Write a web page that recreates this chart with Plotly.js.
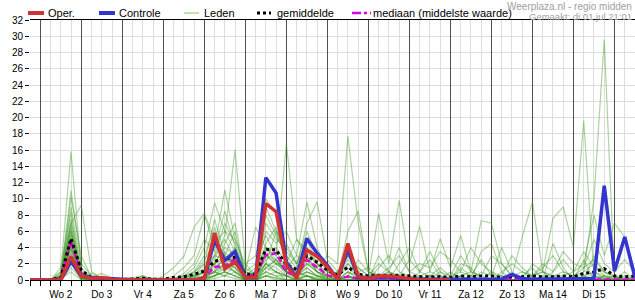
<!DOCTYPE html>
<html><head><meta charset="utf-8">
<script src="https://cdn.plot.ly/plotly-3.0.1.min.js"></script>
<style>html,body{margin:0;padding:0;background:#fff}#chart{width:635px;height:300px}</style>
</head><body><div id="chart"></div>
<script>
// time steps of 6 hours; 0 = Wo 2 jul 00:00
const steps = [-1,0,1,2,3,4,5,6,7,8,9,10,11,12,13,14,15,16,17,18,19,20,21,22,23,24,25,26,27,28,29,30,31,32,33,34,35,36,37,38,39,40,41,42,43,44,45,46,47,48,49,50,51,52,53,54,55,56,57,58];
const midnights = [0,4,8,12,16,20,24,28,32,36,40,44,48,52,56];
const dayCenters = [2,6,10,14,18,22,26,30,34,38,42,46,50,54];
const dayLabels = ['Wo 2','Do 3','Vr 4','Za 5','Zo 6','Ma 7','Di 8','Wo 9','Do 10','Vr 11','Za 12','Zo 13','Ma 14','Di 15'];

const oper = [0, 0,0,0,2.9, 0.5,0.2,0.3,0.05, 0,0,0,0, 0,0,0,0, 0.2,5.8,1.4,2.25, 0.3,0.3,9.4,8.4, 1.8,0.2,3.7,2.9, 1.6,0.1,4.5,0.4, 0.2,0.5,0.5,0.3, 0.1,0,0,0, 0];
const controle = [0, 0,0,0,2.3, 0.5,0.3,0.2,0.1, 0.1,0.05,0,0, 0,0,0,0, 0.2,4.9,2.4,3.5, 0.3,0.3,12.6,10.7, 2.2,0.3,5.1,3.3, 1.8,0.1,3.8,0.3, 0.3,0.4,0.4,0.2, 0.1,0.1,0.1,0.1, 0.1,0.1,0.1,0.1, 0.1,0.1,0.7,0.2, 0.1,0.1,0.1,0.1, 0.1,0.1,0.2,11.6, 1.1,5.3,0.3];
const gemiddelde = [0, 0,0,0.3,5.1, 1.2,0.3,0.3,0.1, 0.05,0.1,0.2,0.1, 0.1,0.3,0.4,0.7, 1.1,2.3,2.6,2.8, 0.7,0.7,3.8,3.7, 1.9,1.3,3.0,2.2, 1.2,0.6,1.6,0.7, 0.5,0.6,0.6,0.6, 0.5,0.4,0.4,0.4, 0.3,0.5,0.4,0.5, 0.5,0.3,0.4,0.4, 0.5,0.4,0.4,0.5, 0.4,0.8,1.0,1.4, 0.5,0.4,0.5];
const mediaan = [0, 0,0,0.2,4.8, 0.8,0.1,0.1,0, 0,0,0,0, 0,0,0,0, 0.3,1.6,1.7,2.6, 0.6,0.6,3.1,3.3, 1.0,0.5,2.5,1.6, 0.6,0.2,0.4,0.2, 0.05,0.05,0.05,0.05, 0.05,0.05,0.05,0.05, 0.05,0.05,0.05,0.05, 0.05,0.05,0.05,0.05, 0.05,0.05,0.05,0.05, 0.05,0.05,0.1,0.1, 0.05,0.05,0.05];

const m1 = [0, 0,0,1.0,15.8, 1.2,0.2,0,0, 0,0,0,0, 0,0.2,0.5,1.0, 3.0,6.5,2.0,1.5, 0.5,1.0,4.0,2.5, 1.0,0.5,3.0,1.0, 0.2,0,0.5,0, 0,0.5,0,0, 0,0,0.5,0, 0,0,0,0, 0,0.5,0,0, 0,0,0,0, 0,0.5,1.0,0.2, 0,0.5,0];
const m2 = [0, 0,0,0.5,11.0, 2.0,0.5,0.3,0, 0,0,0.3,0, 0,0,0.8,2.0, 5.0,3.5,8.5,4.0, 1.0,0.5,7.0,5.0, 4.0,2.0,6.0,3.0, 1.0,0.5,2.0,0.5, 0,1.5,3.0,1.0, 0.5,0,0,1.0, 0,0.5,0,0, 1.0,0,0,0, 0,0,0,0.5, 0,1.0,2.0,0.5, 0.3,0,0];
const m3 = [0, 0,0,0.5,7.0, 9.2,1.0,0.2,0, 0,0,0,0, 0,0,0.3,0.5, 1.0,2.0,4.0,3.0, 0.2,0.5,2.0,6.0, 2.5,1.0,0.5,0.2, 0,0,1.0,0.5, 0,0,0,0, 0,0,0,0, 0,0,0,1.0, 0.5,0,0,0, 0,0,0,0, 0,0,0.5,0.2, 0,0,0];
const m4 = [0, 0,0,0.3,10.2, 3.0,0.3,0.2,0, 0,0,0,0, 0,0,0,0.5, 2.0,7.5,3.0,6.0, 0.5,1.5,10.0,8.0, 3.5,2.0,5.0,2.0, 0.5,0,0.5,0, 0,0,0.5,0, 0,0,0,0, 0,0,0,0, 0,0,0,0, 0,0,0.5,0, 0,0,0,0.5, 0,0,0.3];
const m5 = [0, 0,0,0,9.0, 1.5,0.3,0,0, 0,0,0.5,0, 0,0.5,1.5,3.0, 8.0,4.0,11.1,5.0, 1.5,0.5,6.0,4.5, 6.0,3.0,9.6,4.0, 1.0,0.5,3.0,1.0, 0,0,0,0.5, 0,0,0,0, 0.5,0,0,0, 0,0,0,0, 0,0,0,0, 0,0,0,0, 0,0,0];
const m6 = [0, 0,0,1.5,8.3, 0.5,0.8,0.2,0, 0,0,0,0, 0,0,0,0.3, 1.0,2.5,5.5,16.0, 2.0,0.5,3.0,2.0, 1.5,3.0,2.0,1.0, 0.5,0,0,0, 0,0,0,0, 0,0,0,0, 0,0,0,0, 0,0,0,0, 0,0,0,0, 0,0,0,0, 0,0,0];
const m7 = [0, 0,0,0.2,7.5, 1.0,0.2,0,0, 0,0.3,0.5,0, 0,0,0.2,0.8, 2.5,4.5,6.0,3.5, 1.0,2.0,5.5,3.0, 16.8,5.0,3.5,2.0, 1.0,0.5,1.5,0.5, 0.2,0,0,0, 0,0,0,0, 0,0,0,0, 0,0,0,0, 0,0,0,0, 0,0,0,0, 0,0,0];
const m8 = [0, 0,0,0.8,7.0, 0.5,0.3,0.8,0.2, 0,0,0,0, 0,0,0,0, 0.5,1.0,2.0,1.0, 0.3,0,1.5,2.5, 1.0,0.5,2.0,1.5, 3.0,2.0,17.7,7.0, 1.0,0.5,0.5,0, 0,0,0,0, 0,0,0,0, 0,0,0,0, 0,0,0,0, 0,0,0,0, 0,0,0];
const m9 = [0, 0,0,0.5,6.6, 0.8,0.2,0,0, 0,0,0,0, 0.5,1.5,2.9,6.5, 8.2,5.0,3.0,2.0, 0.5,0.5,4.5,6.5, 2.0,1.0,4.0,2.0, 0.5,0,1.0,0, 0,0,0,0, 0,0,0,0, 0,0,0,0, 0,0,0,0, 0,0,0,0, 0,0,0,0, 0,0,0];
const m10 = [0, 0,0,0.3,6.0, 1.0,0,0,0, 0,0,0,0, 0,0,0.5,1.5, 4.0,9.5,6.0,5.0, 2.0,3.0,8.0,5.5, 3.0,1.5,7.0,9.6, 2.5,1.0,2.0,1.0, 0,0,0.5,0, 0,0,0,0, 0,0,0,0, 0,0,0,0, 0,0,0,0, 0,0,0,0, 0,0,0];
const m11 = [0, 0,0,0,5.8, 0.5,0,0,0, 0,0,0,0, 0,0,0,0, 0.3,1.0,3.0,2.0, 0.5,0,2.0,1.0, 0.5,0.5,1.5,0.5, 0.3,1.0,3.0,1.5, 0.5,8.2,2.0,9.8, 2.0,6.6,1.0,0.5, 0,0,0,0, 0,0,0,0, 0,0,0,0, 0,0,0,0, 0,0,0];
const m12 = [0, 0,0,1.0,5.5, 0.3,0,0,0, 0,0,0,0.3, 0,0,0.3,1.0, 2.0,3.0,7.0,4.5, 1.0,0.5,3.5,4.0, 2.0,0.5,1.0,0.5, 0.2,0,0.5,0, 0,0,0,0, 0,0.5,1.0,5.1, 1.5,5.5,1.0,0.5, 0,0,0,0, 0,0,0,0, 0,0,0,0, 0,0,0];
const m13 = [0, 0,0,0.2,5.2, 0.5,0.2,0,0, 0,0,0,0, 0,0,0,0, 0.5,2.0,1.0,3.0, 0.5,0,4.0,3.0, 1.0,0.5,2.5,1.0, 0,0,0,0.5, 0,0,0,0.5, 0,0.5,0,0, 0,0.5,1.0,7.3, 7.0,2.0,0.5,5.3, 9.6,1.0,0.5,1.0, 0.5,0,0,0, 0,0,0];
const m14 = [0, 0,0,0.5,5.0, 0.3,0.2,0,0, 0,0,0,0, 0,0,0,0, 0.2,0.5,2.0,1.5, 0,0.5,1.5,2.5, 0.5,1.0,0.5,0, 0,0,0.5,0, 0,0,0,0, 0,0,0,0, 0,0,0,0, 0,0,0,0, 0.5,1.0,7.6,9.0, 4.0,19.6,0.5,0.2, 0.5,0,0];
const m15 = [0, 0,0,0.3,4.8, 0.5,0,0,0, 0,0,0,0, 0,0,0,0.2, 1.0,1.5,2.5,2.0, 0.5,0.2,1.0,2.0, 1.0,0.2,0.5,0.3, 0,0,0,0, 0,0,0,0, 0,0,0,0, 0,0,0,0, 0,0,0,0, 0,0,0,0, 0.5,1.0,10.0,29.6, 0,0.3,0];
const m16 = [0, 0,0,0,4.5, 0.2,0,0,0, 0,0,0,0, 0,0,0,0, 0,0.5,1.0,0.5, 0,0,1.0,0.5, 0,0,0,0, 0,0,0,0, 0,0.5,0,0, 0,1.0,2.5,0.5, 0,1.5,0.5,0, 0,0,0,0.5, 1.5,0,0,0, 0,0,1.0,0.5, 0,0,0];
const m17 = [0, 0,0,0.5,4.2, 0.5,0,0,0, 0,0,0,0, 0,0,0,0, 0.5,2.0,4.5,7.0, 0.5,1.0,9.0,6.0, 4.5,2.0,4.0,1.5, 0.5,0.5,6.0,8.5, 1.0,0.5,0,0, 0,0,0,0, 0,0,0,0, 0,0,0,0, 0,0,0,0, 0,0,0,0, 0,0,0];
const m18 = [0, 0,0,0.3,4.0, 0.3,0,0,0, 0,0,0,0, 0,0,0,0.5, 1.5,1.0,2.0,1.0, 0,0.5,3.0,2.0, 1.0,0.5,1.0,0.5, 0.5,1.0,3.0,1.5, 0.5,2.0,1.0,0.5, 0.5,0,0,0, 1.0,0,0.5,2.5, 0.5,4.0,1.0,0, 0,0.5,0,0, 0.5,1.5,2.5,1.0, 0.5,0,0];
const m19 = [0, 0,0,0,3.8, 0.2,0,0,0, 0,0,0,0, 0,0,0,0, 0.5,1.0,0.5,2.0, 0.5,0.2,2.0,1.0, 0.5,0,0.5,0, 0,0,0,0, 0,3.0,1.0,4.0, 1.0,0.5,0,0.5, 0,0,0,0, 0,0,0.5,0, 0.5,1.5,3.0,1.0, 0.5,0,0.5,0, 0,0,0];
const m20 = [0, 0,0,0.2,3.5, 0.5,0,0,0, 0,0,0,0, 0,0,0.5,0.5, 1.0,5.5,2.0,3.0, 1.0,6.5,4.0,2.0, 2.0,5.0,3.0,1.0, 0.5,0,0.5,0, 0,0,0,0, 0,0,0,0, 0,0,0,0, 0,0,0,0, 0,0,0,0, 0,0,0,0, 0,0,0];
const m21 = [0, 0,0,0.5,3.2, 0.3,0,0,0, 0,0,0,0, 0,0,0,0, 0,0.5,1.5,1.0, 0,0,0.5,1.0, 0.5,0,0,0, 0,0,0,0, 0,0,0,0, 0,0,0.5,0, 0,0.5,0,3.5, 4.5,1.0,0,0, 0,0,0,0, 0,0.5,0,0, 0,0,0];
const m22 = [0, 0,0,0,3.0, 0.2,0,0,0, 0,0,0,0, 0,0,0,0, 0.3,0.5,1.0,0.5, 0,0,1.5,1.0, 0,0,0.5,0, 0,1.0,2.5,1.0, 1.5,0.5,0,0, 0,0,0.5,0, 0,0,0,0, 0,0,0,0, 2.0,1.0,0,0, 0,0,3.0,1.0, 0,0,0];
const m23 = [0, 0,0,0.3,2.5, 0.3,0,0,0, 0,0,0,0, 0,0,0,0, 0.5,3.0,2.5,4.0, 0.5,0.5,2.5,3.5, 1.5,0.5,2.0,1.0, 0.5,0,0.5,0, 0,0,0,0, 0,0,0,0, 0,0,0,0, 0,0,0,0, 0,0,0,0, 0,0,0,0, 0,0,0];
const m24 = [0, 0,0,0.2,2.0, 0.2,0,0,0, 0,0,0,0, 0,0,0,0, 0,0.2,0.5,0.2, 0,0,0.5,0.2, 0,0,0,0, 0,0,0,0, 0,0,0,0, 0,0,0,0, 0,0.5,0,0, 0,0,0,0, 0,0,4.5,1.5, 0,0,0,0, 0,0,0];
const m25 = [0, 0,0,0,1.5, 0.2,0,0,0, 0,0,0,0, 0,0,0,0, 0,0,0,0, 0,0,0,0, 0,0,0,0, 0,0,0,0, 0,0,0,0, 0,0,0,0, 0,0,0,0, 0,0,0,0, 0,0,0,0, 0,0,0,0, 0,0,0];
const m26 = [0, 0,0,0.2,1.0, 0,0,0,0, 0,0,0,0, 0,0,0,0, 0.2,0.5,1.0,0.5, 0,0,0.5,0.3, 0,0,0,0, 0,0,0,0, 0,0,1.0,0, 0,0,0,0, 0,2.0,1.5,0, 0,0,0,0, 0,0,0,0, 0,2.5,0,0.5, 0,1.0,0];
const m27 = [0, 0,0,0.5,6.2, 0.5,0.2,0,0, 0,0,0,0, 0,0,0,0.5, 1.0,3.0,5.0,2.5, 0.5,0.5,2.0,1.5, 0.5,0,1.0,0.5, 0,0,1.0,0.5, 0,0,0,2.0, 4.0,1.0,0.5,1.5, 0.5,1.0,0.5,0, 0,1.0,2.0,1.0, 0.5,1.0,0.5,0.5, 1.0,2.0,8.0,3.0, 7.0,5.3,1.0];
const m28 = [0, 0,0,0.3,4.0, 0.5,0,0,0, 0,0,0,0, 0,0,0,0, 0.5,1.0,3.5,2.0, 0.5,0,3.0,2.5, 1.0,0.5,1.5,0.5, 0,0,0.5,2.5, 1.0,0.5,1.5,3.0, 1.0,2.0,1.5,3.5, 2.5,1.0,4.0,2.0, 1.0,0.5,3.0,1.5, 0.5,2.0,1.0,3.5, 2.0,1.5,5.0,2.0, 1.0,2.5,1.0];
const m29 = [0, 0,0,0,2.8, 0,0,0,0, 0,0,0.5,0, 0,0,0,0.3, 0.5,2.0,3.0,1.5, 0,0,1.0,0.5, 0.5,0,0.5,0, 0,0,0,0, 0,0.5,1.0,0.5, 2.5,1.0,3.5,1.0, 0.5,3.0,1.0,0.5, 3.0,2.0,0.5,1.0, 0.5,0,1.0,2.5, 1.0,3.5,1.5,1.0, 0.5,0,0.5];
const m30 = [0, 0,0,0.2,2.2, 0,0,0,0, 0,0,0,0, 0,0,0,0, 0.2,1.0,0.5,1.0, 0,0,0.5,0, 0,0,0,0, 0,0,0,0, 0,0,0,0, 0.5,0,0.5,0, 0,0,0,0, 0,0,0.5,0, 0,0,0,0, 0,0.5,0,0, 0,0,0];
const leden = [m1,m2,m3,m4,m5,m6,m7,m8,m9,m10,m11,m12,m13,m14,m15,m16,m17,m18,m19,m20,m21,m22,m23,m24,m25,m26,m27,m28,m29,m30];

const C_OPER = '#d23232', C_CTRL = '#3434cf', C_LEDEN = 'rgba(60,150,30,0.42)', C_MEAN = '#000000', C_MED = '#e000e0';

const traces = [];
leden.forEach(function(m){
  traces.push({x: steps, y: m, type: 'scatter', mode: 'lines', line: {color: C_LEDEN, width: 1.2}, hoverinfo: 'skip', showlegend: false});
});
traces.push({x: steps, y: mediaan, type: 'scatter', mode: 'lines', line: {color: C_MED, width: 2.5, dash: '6px,3px'}, showlegend: false});
traces.push({x: steps, y: gemiddelde, type: 'scatter', mode: 'lines', line: {color: C_MEAN, width: 3, dash: 'dot'}, showlegend: false});
traces.push({x: steps, y: controle, type: 'scatter', mode: 'lines', line: {color: C_CTRL, width: 3.5}, showlegend: false});
// top-most trace lives on the overlay axis that carries the day-boundary grid
traces.push({x: steps, y: oper, type: 'scatter', mode: 'lines', xaxis: 'x2', line: {color: C_OPER, width: 3.5}, showlegend: false});

// legend drawn in pixel positions converted to paper coords
const L = 30, W = 605, B = 280, H = 260;
function px(x){ return (x - L) / W; }
function py(y){ return (B - y) / H; }
const legY = py(13);
const legendItems = [
  {x0: 28, x1: 44, color: C_OPER, width: 4, dash: 'solid', label: 'Oper.', tx: 47},
  {x0: 99, x1: 115, color: C_CTRL, width: 4, dash: 'solid', label: 'Controle', tx: 118},
  {x0: 184, x1: 199, color: 'rgba(70,160,40,0.45)', width: 1.5, dash: 'solid', label: 'Leden', tx: 203},
  {x0: 257, x1: 271, color: C_MEAN, width: 3, dash: 'dot', label: 'gemiddelde', tx: 276},
  {x0: 352, x1: 371, color: C_MED, width: 2.5, dash: 'dashdot', label: 'mediaan (middelste waarde)', tx: 372}
];
const shapes = legendItems.map(function(it){
  return {type: 'line', xref: 'paper', yref: 'paper', x0: px(it.x0), x1: px(it.x1), y0: legY, y1: legY, line: {color: it.color, width: it.width, dash: it.dash}};
});
const annotations = legendItems.map(function(it){
  return {xref: 'paper', yref: 'paper', x: px(it.tx), y: legY, xanchor: 'left', yanchor: 'middle', text: it.label, showarrow: false, font: {size: 11, color: '#000'}, borderpad: 0};
});
annotations.push({xref: 'paper', yref: 'paper', x: px(633), y: py(6.5), xanchor: 'right', yanchor: 'middle', text: 'Weerplaza.nl - regio midden', showarrow: false, font: {size: 10, color: '#a0a0a0'}, borderpad: 0});
annotations.push({xref: 'paper', yref: 'paper', x: px(633), y: py(16), xanchor: 'right', yanchor: 'middle', text: 'Gemaakt: di 01 jul 21:01', showarrow: false, font: {size: 9.5, color: '#a0a0a0'}, borderpad: 0});

const layout = {
  width: 635, height: 300,
  margin: {l: L, r: 635 - L - W, t: 20, b: 20, pad: 0},
  paper_bgcolor: '#ffffff', plot_bgcolor: '#ffffff',
  showlegend: false,
  font: {family: '"Liberation Sans", Arial, sans-serif', size: 10, color: '#000'},
  xaxis: {
    range: [-1, 58], tickmode: 'array', tickvals: dayCenters, ticktext: dayLabels,
    tickfont: {size: 10, color: '#000'},
    showgrid: true, gridcolor: '#dddddd', gridwidth: 1,
    ticks: 'outside', ticklen: 5, tickcolor: '#000', tickwidth: 1,
    showline: true, linecolor: '#000', linewidth: 1, mirror: true, zeroline: false,
    minor: {tickmode: 'linear', tick0: 0, dtick: 1, showgrid: true, gridcolor: '#dddddd', gridwidth: 1, ticks: 'outside', ticklen: 5, tickcolor: '#000', tickwidth: 1}
  },
  xaxis2: {
    overlaying: 'x', anchor: 'y', side: 'bottom', range: [-1, 58],
    tickmode: 'array', tickvals: midnights, ticktext: midnights.map(function(){return '';}),
    showgrid: true, gridcolor: '#505050', gridwidth: 1,
    ticks: '', showline: false, zeroline: false, showticklabels: false
  },
  yaxis: {
    range: [0, 32], tickmode: 'linear', tick0: 0, dtick: 2,
    showgrid: true, gridcolor: '#dddddd', gridwidth: 1,
    ticks: 'outside', ticklen: 4, tickcolor: '#000', zeroline: false, showline: false,
    tickfont: {size: 10, color: '#000'}
  },
  shapes: shapes,
  annotations: annotations
};

Plotly.newPlot('chart', traces, layout, {staticPlot: true, displayModeBar: false});
</script></body></html>
